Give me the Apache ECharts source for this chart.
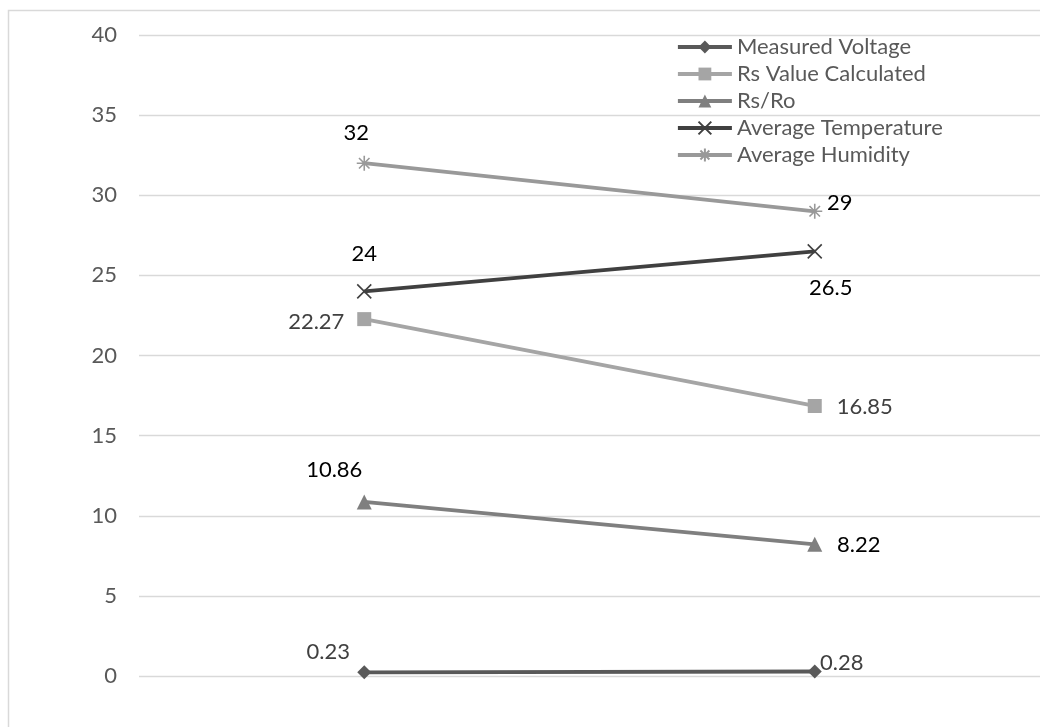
<!DOCTYPE html>
<html>
<head>
<meta charset="utf-8">
<style>
  html, body { margin: 0; padding: 0; background: #fff; }
  #chart { width: 1040px; height: 727px; }
</style>
<script src="https://cdn.jsdelivr.net/npm/echarts@6/dist/echarts.min.js"></script>
</head>
<body>
<div id="chart"></div>
<script>
// Sensor readings for two test runs
const categories = ['Test 1', 'Test 2'];
const measuredVoltage = [0.23, 0.28];
const rsValueCalculated = [22.27, 16.85];
const rsRo = [10.86, 8.22];
const averageTemperature = [24, 26.5];
const averageHumidity = [32, 29];
const yTicks = { min: 0, max: 40, interval: 5 };

const FONT = 'Lato, "Liberation Sans", sans-serif';
const crossPath = 'path://M0,0L10,10M10,0L0,10';
const starPath = 'path://M5,0L5,10M0,5L10,5M1.5,1.5L8.5,8.5M8.5,1.5L1.5,8.5';

// attach a per-point label offset (pixels from the marker centre)
function withLabels(values, offsets, color) {
  return values.map((v, i) => ({
    value: v,
    label: {
      show: true,
      position: 'inside',
      offset: offsets[i],
      color: color,
      fontSize: 22,
      fontFamily: FONT
    }
  }));
}

function lineSeries(name, values, color, symbol, size, offsets, labelColor, stroked) {
  return {
    name: name,
    type: 'line',
    data: withLabels(values, offsets, labelColor),
    symbol: symbol,
    symbolSize: size,
    showAllSymbol: true,
    lineStyle: { color: color, width: 3.8 },
    itemStyle: stroked
      ? { color: color, borderColor: color, borderWidth: 1.6 }
      : { color: color },
    emphasis: { disabled: true },
    z: 3
  };
}

const chart = echarts.init(document.getElementById('chart'), null, { renderer: 'canvas' });

chart.setOption({
  animation: false,
  backgroundColor: '#ffffff',
  graphic: [{
    type: 'rect',
    shape: { x: 8.5, y: 10.5, width: 1040, height: 720 },
    style: { fill: 'none', stroke: '#d9d9d9', lineWidth: 1.5 },
    silent: true,
    z: -1
  }],
  grid: { left: 139, right: -7, top: 35, bottom: 51, containLabel: false },
  legend: {
    orient: 'vertical',
    left: 671,
    top: 31,
    itemWidth: 54,
    itemHeight: 16,
    itemGap: 5,
    lineStyle: { width: 3.8 },
    textStyle: { color: '#595959', fontSize: 22, fontFamily: FONT, lineHeight: 22 },
    data: ['Measured Voltage', 'Rs Value Calculated', 'Rs/Ro', 'Average Temperature', 'Average Humidity']
  },
  xAxis: {
    type: 'category',
    data: categories,
    boundaryGap: true,
    axisLine: { show: false },
    axisTick: { show: false },
    axisLabel: { show: false },
    splitLine: { show: false }
  },
  yAxis: {
    type: 'value',
    min: yTicks.min,
    max: yTicks.max,
    interval: yTicks.interval,
    axisLine: { show: false },
    axisTick: { show: false },
    axisLabel: { color: '#595959', fontSize: 22, fontFamily: FONT, margin: 22 },
    splitLine: { lineStyle: { color: '#d9d9d9', width: 1.3 } }
  },
  series: [
    lineSeries('Measured Voltage', measuredVoltage, '#595959', 'diamond', 14,
      [[-36, -20], [27, -9]], '#404040', false),
    lineSeries('Rs Value Calculated', rsValueCalculated, '#a5a5a5', 'rect', 14,
      [[-48, 3], [50, 1]], '#404040', false),
    lineSeries('Rs/Ro', rsRo, '#7f7f7f', 'triangle', 15,
      [[-30, -32], [44, 1]], '#000000', false),
    lineSeries('Average Temperature', averageTemperature, '#404040', crossPath, 14,
      [[0, -37], [16, 37]], '#000000', true),
    lineSeries('Average Humidity', averageHumidity, '#999999', starPath, 15,
      [[-8, -30], [25, -8]], '#000000', true)
  ]
});
</script>
</body>
</html>
